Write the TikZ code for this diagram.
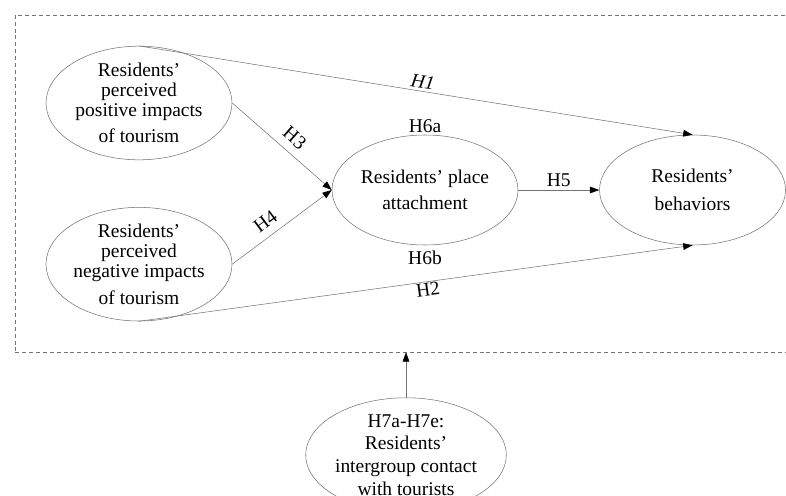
\documentclass[tikz,border=0pt]{standalone}
\usepackage{fontspec}
\setmainfont{Liberation Serif}
\usetikzlibrary{positioning,shapes.geometric,arrows.meta}
\definecolor{linegray}{rgb}{0.45,0.45,0.45}

\begin{document}
\begin{tikzpicture}[
  x = 0.75pt,
  y = -0.75pt,
  construct/.style = {
    draw = linegray,
    ellipse,
    align = center,
    inner sep = 0pt,
    minimum width = 139.5pt,
    minimum height = 82.5pt,
    font = \fontsize{14.6}{15}\selectfont,
  },
  frame/.style = {
    draw = linegray,
    dash pattern = on 3pt off 2.2pt,
    minimum width = 588.75pt,
    minimum height = 252.75pt,
  },
  hyp/.style = {
    draw = linegray,
    -{Triangle[length=7pt,width=5pt,color=black]},
  },
  hlabel/.style = {
    font = \fontsize{14.6}{15}\selectfont,
    inner sep = 2pt,
  },
]

  \useasboundingbox (0,0) rectangle (786,496);
  \clip (0,0) rectangle (786,496);

  \node[frame] (frame) at (407.5,183.5) {};

  \node[construct] (pos) at (139,103) {Residents’\\perceived\\positive impacts\\[5pt]of tourism};
  \node[construct] (neg) [below=35.25pt of pos] {Residents’\\perceived\\negative impacts\\[5pt]of tourism};
  \node[construct] (att) at (425,190) {Residents’ place\\[5pt]attachment};
  \node[construct] (beh) [right=60.75pt of att] {Residents’\\[6pt]behaviors};
  \node[construct] (ctc) at (406,455) {H7a-H7e:\\[2pt]Residents’\\[2pt]intergroup contact\\[2pt]with tourists};

  \node[hlabel] (h6a) [above=-1pt of att.north] {H6a};
  \node[hlabel] (h6b) [below=2pt of att.south] {H6b};

  \path[hyp] (pos.north) -- node[hlabel,pos=0.51,above,sloped,font=\fontsize{14.6}{15}\selectfont\itshape] {H1} (beh.north);
  \path[hyp] (pos.east) -- node[hlabel,pos=0.53,above=4pt,sloped] {H3} (att.west);
  \path[hyp] (neg.east) -- node[hlabel,pos=0.42,above=4pt,sloped] {H4} (att.west);
  \path[hyp] (neg.south) -- node[hlabel,pos=0.52,below=-1pt,sloped] {H2} (beh.south);
  \path[hyp] (att) -- node[hlabel,above] {H5} (beh);

  \path[hyp] (ctc.north) -- (ctc.north |- frame.south);

\end{tikzpicture}
\end{document}
